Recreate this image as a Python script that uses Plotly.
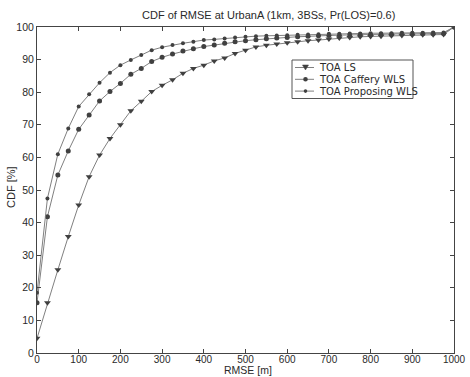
import plotly.graph_objects as go

rmse = [i * 25 for i in range(41)]

toa_ls = [4.5, 15.4, 25.5, 35.7, 45.4, 54.1, 60.7, 65.8, 70.0, 74.3,
          77.2, 80.2, 82.1, 83.8, 85.8, 87.3, 88.3, 89.6, 90.5, 91.9,
          92.9, 93.9, 94.4, 94.8, 95.2, 95.5, 95.8, 96.0, 96.3, 96.6,
          96.8, 97.0, 97.1, 97.2, 97.3, 97.4, 97.5, 97.6, 97.6, 97.7, 100.0]

toa_caffery = [15.4, 41.8, 54.6, 62.0, 68.6, 73.0, 77.3, 80.2, 82.7, 85.5,
               87.3, 89.4, 90.7, 91.7, 92.6, 93.3, 94.0, 94.5, 95.0, 95.5,
               95.8, 96.1, 96.4, 96.6, 96.8, 97.0, 97.2, 97.3, 97.4, 97.5,
               97.6, 97.7, 97.7, 97.8, 97.8, 97.9, 97.9, 97.9, 98.0, 98.0, 100.0]

toa_proposing = [18.5, 47.4, 61.0, 68.9, 75.6, 79.4, 82.9, 86.0, 88.3, 89.9,
                 91.4, 92.9, 93.8, 94.5, 95.0, 95.5, 96.0, 96.2, 96.5, 96.8,
                 97.0, 97.2, 97.3, 97.4, 97.5, 97.6, 97.7, 97.8, 97.9, 97.9,
                 98.0, 98.0, 98.1, 98.1, 98.1, 98.2, 98.2, 98.2, 98.3, 98.3, 100.0]

series_names = ["TOA LS", "TOA Caffery WLS", "TOA Proposing WLS"]
x_ticks = [0, 100, 200, 300, 400, 500, 600, 700, 800, 900, 1000]
y_ticks = [0, 10, 20, 30, 40, 50, 60, 70, 80, 90, 100]

FONT = "Liberation Sans, Arial, sans-serif"
LEG_FONT = "DejaVu Sans, Liberation Sans, sans-serif"
LINE = "#808080"
MARK = "#404040"
TXT = "#2a2a2a"

# plot-area geometry in pixels
L, R, T, B = 37, 454, 27, 353
W, H = R - L, B - T


def px(xp):
    return (xp - L) / W


def py(yp):
    return (B - yp) / H


fig = go.Figure()
styles = [dict(symbol="triangle-down", size=6), dict(symbol="circle", size=5),
          dict(symbol="circle", size=4)]
for name, vals, st in zip(series_names, [toa_ls, toa_caffery, toa_proposing], styles):
    fig.add_trace(go.Scatter(x=rmse, y=vals, name=name, mode="lines+markers",
                             line=dict(color=LINE, width=1),
                             marker=dict(color=MARK, **st), showlegend=False))

axis_common = dict(showgrid=False, zeroline=False, showline=True, linecolor="#444",
                   linewidth=1, mirror="ticks", ticks="inside", ticklen=4, automargin=False,
                   tickcolor="#444")

fig.update_xaxes(range=[0, 1000], tickvals=x_ticks, ticktext=[str(v) for v in x_ticks],
                 ticklabelstandoff=-3, tickfont=dict(family=FONT, size=10, color=TXT),
                 **axis_common)
fig.update_yaxes(range=[0, 100], tickvals=y_ticks, ticktext=[str(v) for v in y_ticks],
                 ticklabelstandoff=0, tickfont=dict(family=FONT, size=10.5, color=TXT),
                 **axis_common)

# custom compact legend (MATLAB style)
shapes = [dict(type="rect", xref="paper", yref="paper",
               x0=px(292), x1=px(413), y0=py(98.5), y1=py(60),
               line=dict(color="#555", width=1), fillcolor="white", layer="above")]
annotations = []
rows = [67.5, 79.3, 91.1]
for i, (name, yrow) in enumerate(zip(series_names, rows)):
    shapes.append(dict(type="line", xref="paper", yref="paper",
                       x0=px(295), x1=px(314), y0=py(yrow), y1=py(yrow),
                       line=dict(color=LINE, width=1), layer="above"))
    cx = 305.5
    if i == 0:
        path = "M {:.5f} {:.5f} L {:.5f} {:.5f} L {:.5f} {:.5f} Z".format(
            px(cx - 3), py(yrow - 2.5), px(cx + 3), py(yrow - 2.5), px(cx), py(yrow + 2.5))
        shapes.append(dict(type="path", xref="paper", yref="paper", path=path,
                           fillcolor=MARK, line=dict(color=MARK, width=0.5), layer="above"))
    else:
        r = 2.3 if i == 1 else 1.8
        shapes.append(dict(type="circle", xref="paper", yref="paper",
                           x0=px(cx - r), x1=px(cx + r), y0=py(yrow + r), y1=py(yrow - r),
                           fillcolor=MARK, line=dict(color=MARK, width=0), layer="above"))
    annotations.append(dict(text=name, xref="paper", yref="paper", x=px(318), y=py(yrow),
                            xanchor="left", yanchor="middle", showarrow=False, borderpad=0,
                            font=dict(family=LEG_FONT, size=10, color=TXT)))

annotations += [
    dict(text="CDF of RMSE at UrbanA (1km, 3BSs, Pr(LOS)=0.6)", xref="paper", yref="paper",
         x=px(268), y=py(15), showarrow=False,
         font=dict(family=FONT, size=11, color=TXT), xanchor="center", yanchor="middle"),
    dict(text="RMSE [m]", xref="paper", yref="paper",
         x=px(248), y=py(377), showarrow=False, borderpad=0,
         font=dict(family=FONT, size=10.5, color=TXT), xanchor="center", yanchor="bottom"),
    dict(text="CDF [%]", xref="paper", yref="paper", textangle=-90,
         x=px(11), y=py(187), showarrow=False,
         font=dict(family=FONT, size=11, color=TXT), xanchor="center", yanchor="middle"),
]

fig.update_layout(
    width=470, height=377,
    margin=dict(l=L, r=470 - R, t=T, b=377 - B),
    paper_bgcolor="white", plot_bgcolor="white",
    font=dict(family=FONT, size=11, color=TXT),
    showlegend=False,
    shapes=shapes,
    annotations=annotations,
)

fig.write_html("out.html")
